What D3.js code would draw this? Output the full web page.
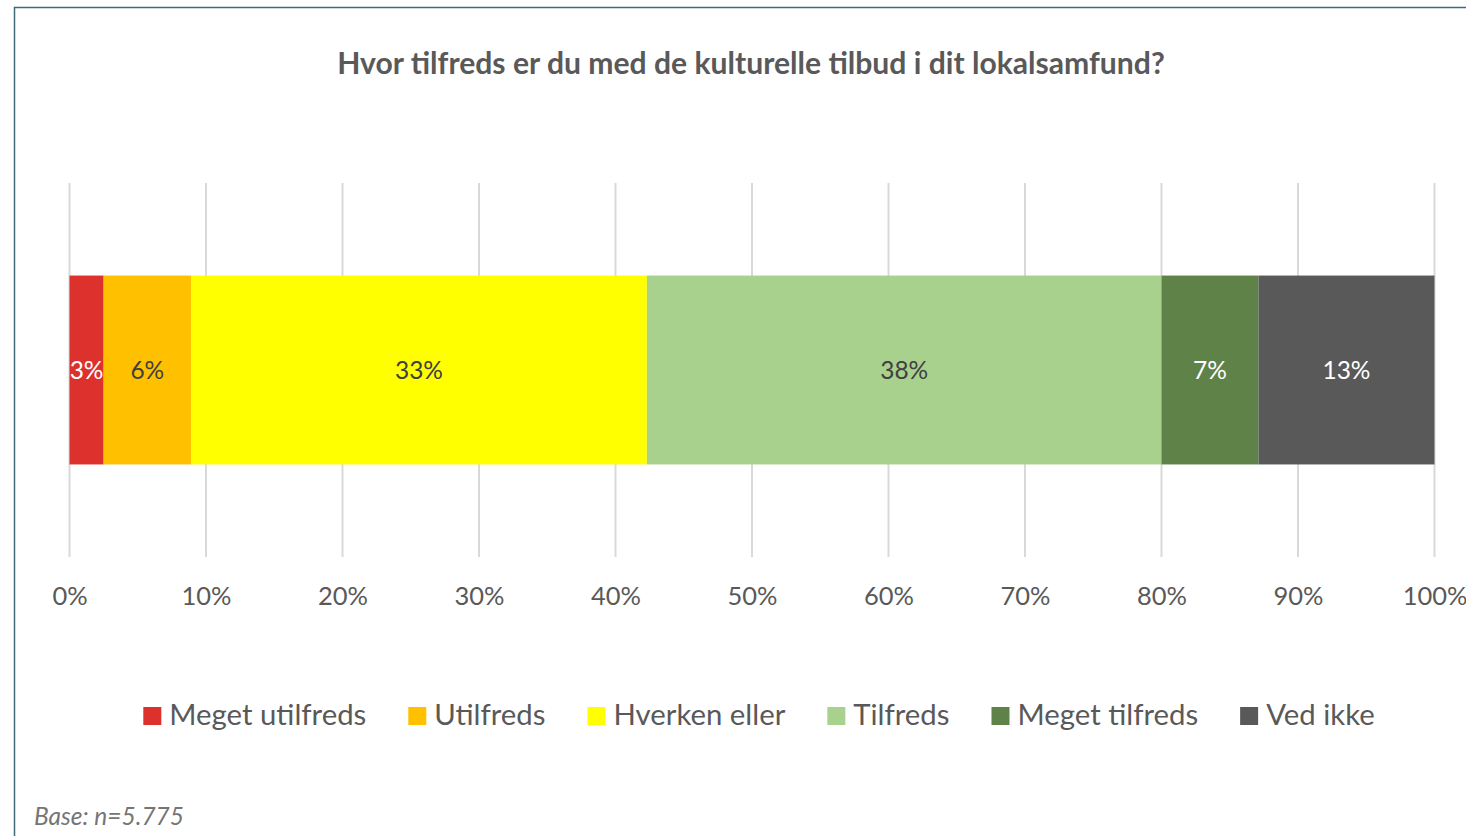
<!DOCTYPE html>
<html>
<head>
<meta charset="utf-8">
<script src="https://cdn.jsdelivr.net/npm/d3@7"></script>
<style>
  body { margin: 0; background: #fff; }
  text { font-family: Lato, "Noto Sans", sans-serif; }
</style>
</head>
<body>
<svg id="chart" width="1466" height="836"></svg>
<script>
// data (percent of respondents)
var categories = ["Meget utilfreds", "Utilfreds", "Hverken eller", "Tilfreds", "Meget tilfreds", "Ved ikke"];
var values = [2.5, 6.4, 33.4, 37.7, 7.1, 12.9];
var labels = ["3%", "6%", "33%", "38%", "7%", "13%"];
var colors = ["#DC312D", "#FFC000", "#FFFF00", "#A9D18E", "#5F8249", "#595959"];
var labelColors = ["#fff", "#404040", "#404040", "#404040", "#fff", "#fff"];
var ticks = [0, 10, 20, 30, 40, 50, 60, 70, 80, 90, 100];

var svg = d3.select("#chart");

// frame
svg.append("rect")
    .attr("x", 14.5).attr("y", 7.5)
    .attr("width", 1500).attr("height", 900)
    .attr("fill", "none")
    .attr("stroke", "#3E6B78")
    .attr("stroke-width", 1.5);

// scale the font so a text fits the width seen in the picture
function fit(sel, w) {
    sel.style("font-size", "100px");
    var len = sel.node().getComputedTextLength();
    var size = 100 * w / len;
    sel.style("font-size", size + "px");
    return size;
}

var x = d3.scaleLinear().domain([0, 100]).range([69.5, 1434.5]);
var y = d3.scaleBand().domain(["q"]).range([183, 557]).paddingInner(0).paddingOuter(0.49);

var title = svg.append("text")
    .attr("x", 751).attr("y", 74)
    .attr("text-anchor", "middle")
    .attr("fill", "#595959")
    .style("font-weight", "bold")
    .text("Hvor tilfreds er du med de kulturelle tilbud i dit lokalsamfund?");
fit(title, 828);

// gridlines
svg.append("g")
    .selectAll("line")
    .data(ticks)
    .enter().append("line")
    .attr("x1", function (d) { return x(d); })
    .attr("x2", function (d) { return x(d); })
    .attr("y1", 183).attr("y2", 557)
    .attr("stroke", "#D9D9D9")
    .attr("stroke-width", 2);

// stacked segments
var stack = [];
var acc = 0;
values.forEach(function (v, i) {
    stack.push({start: acc, end: acc + v, i: i});
    acc += v;
});

var bar = svg.append("g");
bar.selectAll("rect")
    .data(stack)
    .enter().append("rect")
    .attr("x", function (d) { return x(d.start); })
    .attr("width", function (d) { return x(d.end) - x(d.start); })
    .attr("y", y("q"))
    .attr("height", y.bandwidth())
    .attr("fill", function (d) { return colors[d.i]; });

var lbl = bar.selectAll("text")
    .data(stack)
    .enter().append("text")
    .attr("x", function (d) { return (x(d.start) + x(d.end)) / 2; })
    .attr("y", y("q") + y.bandwidth() / 2)
    .attr("dy", "0.35em")
    .attr("text-anchor", "middle")
    .attr("fill", function (d) { return labelColors[d.i]; })
    .text(function (d) { return labels[d.i]; });
var lblSize = fit(d3.select(lbl.nodes()[2]), 48);
lbl.style("font-size", lblSize + "px");

// axis
var axis = svg.append("g")
    .attr("transform", "translate(0,576)")
    .call(d3.axisBottom(x).tickValues(ticks).tickSize(0).tickPadding(0)
        .tickFormat(function (d) { return d + "%"; }));
axis.select(".domain").remove();
var tickText = axis.selectAll("text")
    .attr("fill", "#595959")
    .attr("dy", 0)
    .attr("y", 29);
var tickSize = fit(d3.select(tickText.nodes()[9]), 50);
tickText.style("font-size", tickSize + "px").style("font-family", "Lato, 'Noto Sans', sans-serif");

// legend
var legend = svg.append("g");
var items = legend.selectAll("g")
    .data(categories)
    .enter().append("g");
items.append("rect")
    .attr("width", 18).attr("height", 18)
    .attr("y", 707)
    .attr("fill", function (d, i) { return colors[i]; });
var legText = items.append("text")
    .attr("y", 725)
    .attr("fill", "#595959")
    .text(function (d) { return d; });
var legSize = fit(d3.select(legText.nodes()[0]), 197);
legText.style("font-size", legSize + "px");

var widths = legText.nodes().map(function (n) { return n.getComputedTextLength(); });
var total = d3.sum(widths) + categories.length * 26 + (categories.length - 1) * 42;
var pos = 759 - total / 2;
items.each(function (d, i) {
    d3.select(this).select("rect").attr("x", pos);
    d3.select(this).select("text").attr("x", pos + 26);
    pos += 26 + widths[i] + 42;
});

var base = svg.append("text")
    .attr("x", 34).attr("y", 825)
    .attr("fill", "#757575")
    .style("font-style", "italic")
    .text("Base: n=5.775");
fit(base, 150);
</script>
</body>
</html>
